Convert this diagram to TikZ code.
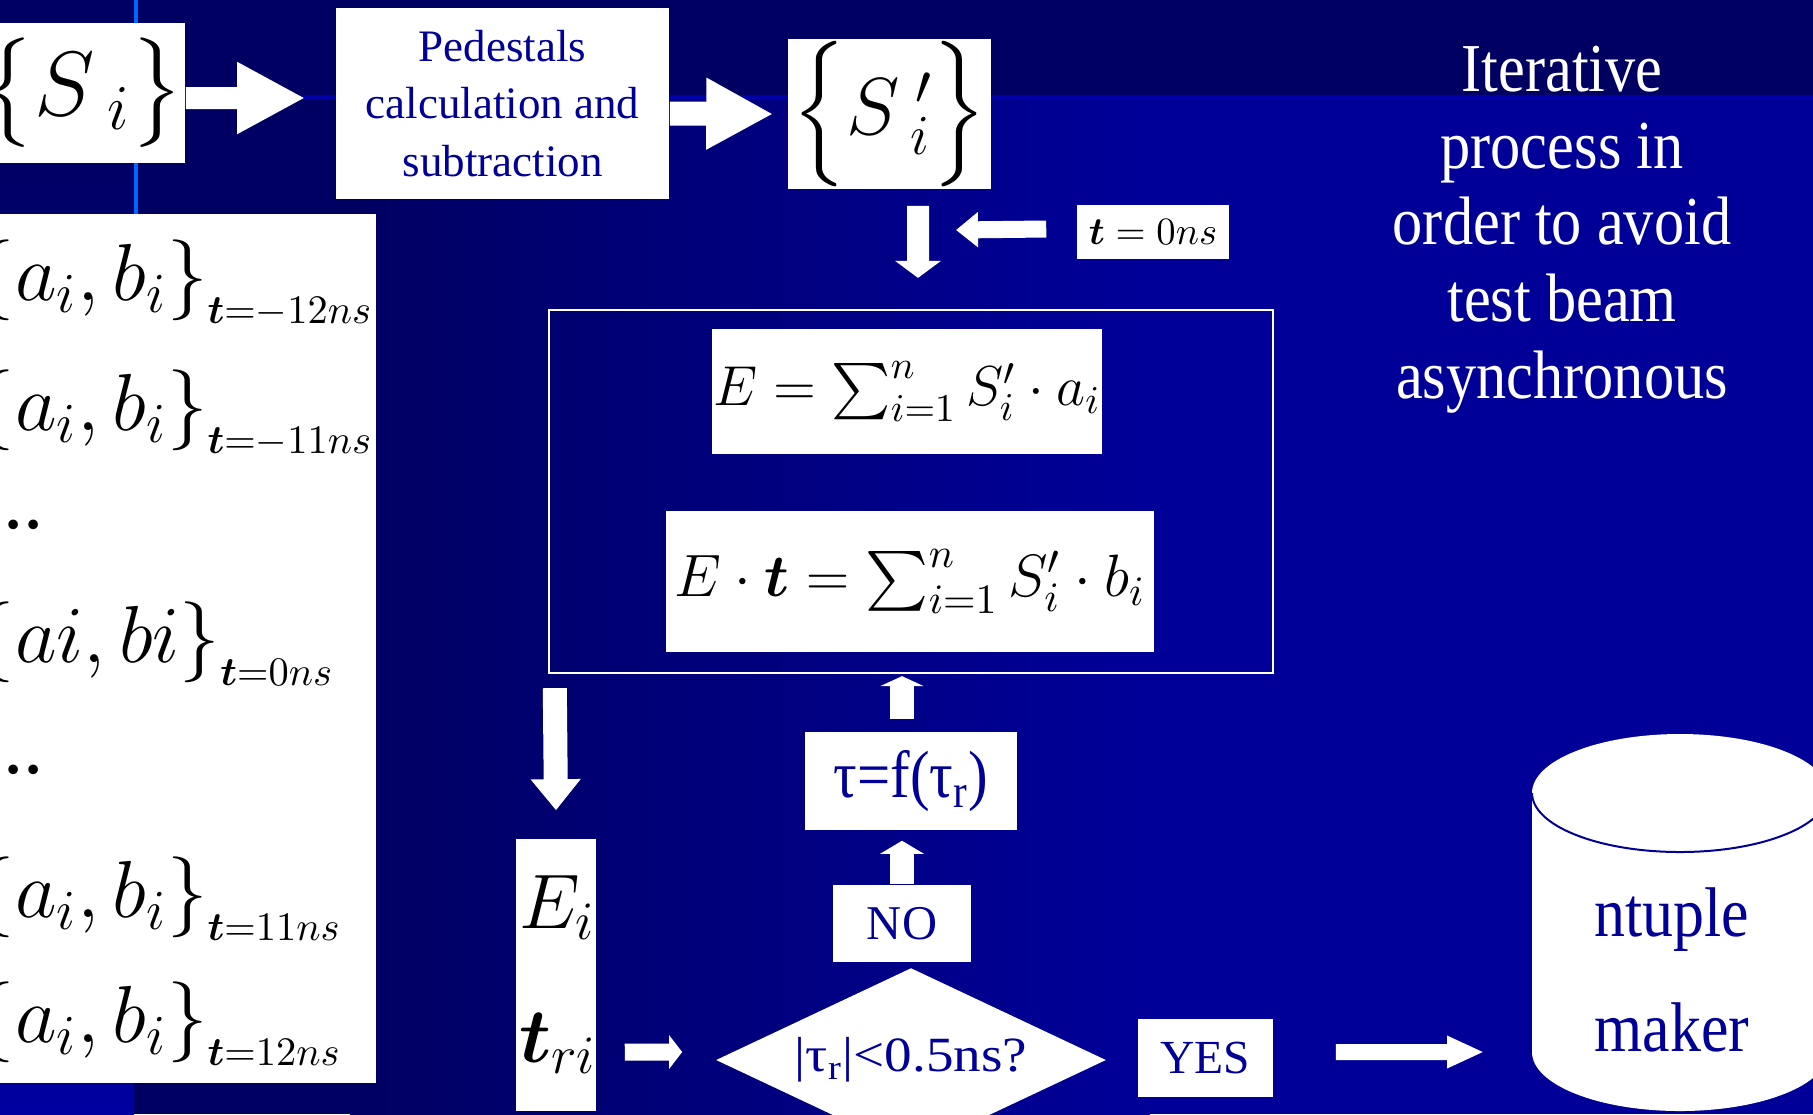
\RequirePackage{fix-cm}
\documentclass[tikz,border=0pt]{standalone}
\usepackage{amsmath,amssymb}
\usepackage{fontspec}
\setmainfont{Liberation Serif}
\newfontfamily\slimserif[FakeStretch=0.88]{Liberation Serif}
\newfontfamily\wideserif[FakeStretch=1.12]{Liberation Serif}
\usetikzlibrary{shapes.geometric, arrows.meta, positioning, calc}
\definecolor{SlideNavy}{HTML}{000062}
\definecolor{SlideBlue}{HTML}{000099}
\definecolor{InkBlue}{HTML}{000099}
\definecolor{EdgeBlue}{HTML}{0066FF}
\definecolor{BandLine}{HTML}{0000AA}
\definecolor{StripBlue}{HTML}{0000A0}

\tikzset{
  wbox/.style={fill=white, inner sep=0pt},
  rowtxt/.style={anchor=base west, inner sep=0pt, font=\fontsize{23}{27}\selectfont},
  fat/.style n args={3}{draw=white, line width=#1, -{Triangle[width=#2, length=#3]}},
}

\begin{document}
\begin{tikzpicture}[x=0.01cm, y=-0.01cm]
                % Background
                \clip (0,0) rectangle (1813,1114);
                \fill[SlideNavy] (0,0) rectangle (1813,1114);
                \shade[left color=SlideNavy, right color=SlideBlue] (350,97) rectangle (1150,1114);
                \fill[SlideBlue] (1150,97) rectangle (1813,1114);
                \shade[top color=SlideNavy, bottom color=StripBlue] (0,97) rectangle (134,1114);
                \fill[BandLine] (0,95) rectangle (1813,99);
                \fill[EdgeBlue] (134,0) rectangle (138,400);

                % Nodes
                \node[wbox, minimum width=2.05cm, minimum height=1.40cm, font=\fontsize{26}{30}\selectfont] (si) at (82.5,93) {\raisebox{0.06cm}{$\left\{\vrule height 21pt depth 9pt width 0pt S_{\;i}\right\}$}};
                \node[wbox, text=InkBlue, align=center, minimum width=3.33cm, minimum height=1.91cm, font=\fontsize{12.8}{16.4}\selectfont] (ped) at (502.5,103.5) {Pedestals\\calculation and\\subtraction};
                \node[wbox, minimum width=2.03cm, minimum height=1.50cm, font=\fontsize{23}{27}\selectfont] (sp) at (889.5,114) {\raisebox{0.06cm}{$\left\{\vrule height 24pt depth 12pt width 0pt S^{\;\prime}_{\;i}\right\}$}};
                \node[wbox, minimum width=1.52cm, minimum height=0.54cm, font=\fontsize{11}{13}\selectfont] (tzero) at (1153,232) {$\boldsymbol{t}=0ns$};

                \node[draw=white, line width=0.02cm, minimum width=7.24cm, minimum height=3.63cm] (frame) at (911,491.5) {};
                \node[wbox, minimum width=3.90cm, minimum height=1.25cm, font=\fontsize{16}{19}\selectfont] (eqa) at (907,391.5) {$E=\sum_{i=1}^{n}S^{\prime}_{i}\cdot a_{i}$};
                \node[wbox, minimum width=4.88cm, minimum height=1.41cm, font=\fontsize{17}{21}\selectfont] (eqb) at (910,581.5) {$E\cdot\boldsymbol{t}=\sum_{i=1}^{n}S^{\prime}_{i}\cdot b_{i}$};

                \node[wbox, minimum width=0.80cm, minimum height=2.72cm] (et) at (556,975) {};
                \node[anchor=base, inner sep=0pt, font=\fontsize{22}{26}\selectfont] (ei) at (557,928) {$E_{i}$};
                \node[anchor=base, inner sep=0pt, font=\fontsize{22}{26}\selectfont] (tri) at (558,1062) {$\boldsymbol{t}_{ri}$};

                \node[wbox, text=InkBlue, minimum width=2.12cm, minimum height=0.98cm, font=\slimserif\fontsize{19}{22}\selectfont] (tau) at (911,781) {τ=f(τ\textsubscript{r})};
                \node[wbox, text=InkBlue, minimum width=1.38cm, minimum height=0.77cm, font=\fontsize{13.8}{16}\selectfont] (no) at (902,923.5) {NO};
                \node[diamond, aspect=2.12, fill=white, inner sep=0pt, text=InkBlue, minimum width=3.90cm, minimum height=1.84cm, font=\wideserif\fontsize{14}{16}\selectfont] (dia) at (911,1060) {\raisebox{0.1cm}{|τ\textsubscript{r}|<0.5ns?}};
                \node[wbox, text=InkBlue, minimum width=1.35cm, minimum height=0.78cm, font=\fontsize{13.5}{16}\selectfont] (yes) at (1205.5,1058) {YES};

                % ntuple maker cylinder
                \fill[white] (1532,793) -- (1532,1052) arc[start angle=180, end angle=0, x radius=148, y radius=59] -- (1828,793) arc[start angle=0, end angle=-180, x radius=148, y radius=59] -- cycle;
                \draw[InkBlue, line width=0.02cm] (1532,793) arc[start angle=180, end angle=0, x radius=148, y radius=59];
                \node[text=InkBlue, align=center, inner sep=0pt, font=\slimserif\fontsize{20}{32.7}\selectfont] (ntuple) at (1672,970) {ntuple\\maker};

                \node[text=white, align=center, inner sep=0pt, font=\slimserif\fontsize{19.5}{21.8}\selectfont] (note) at (1562,229.5) {Iterative\\process in\\order to avoid\\test beam\\asynchronous};

                % Coefficient table
                \node[wbox, anchor=north west, minimum width=3.95cm, minimum height=8.69cm] (coef) at (-20,213) {};
                \foreach \yb/\tv in {300/-12, 430/-11, 917/11, 1042/12}
                    \node[rowtxt] (row\tv) at (-26,\yb) {$\left\{a_{i},b_{i}\right\}_{\scriptscriptstyle\boldsymbol{t}=\tv ns}$};
                \node[rowtxt] (row0) at (-26,662) {$\left\{ai,bi\right\}_{\scriptscriptstyle\boldsymbol{t}=0ns}$};
                \node[rowtxt] (dotsa) at (3,528) {..};
                \node[rowtxt] (dotsb) at (3,773) {..};

                % Paths
                \coordinate (feed) at (956,230);
                \coordinate (dbin) at (1484,1052);
                \draw[fat={0.22cm}{0.67cm}{0.68cm}] ([yshift=-0.05cm]si.east) -- ([xshift=-0.30cm,yshift=0.055cm]ped.west);
                \draw[fat={0.24cm}{0.67cm}{0.67cm}] ([yshift=-0.10cm]ped.east) -- ([xshift=-0.14cm]sp.west);
                \draw[fat={0.22cm}{0.45cm}{0.17cm}] ([xshift=0.285cm,yshift=-0.16cm]sp.south) -- ([xshift=0.07cm,yshift=0.31cm]frame.north);
                \draw[fat={0.17cm}{0.34cm}{0.22cm}] ([xshift=-0.30cm,yshift=0.03cm]tzero.west) -- (feed);
                \draw[fat={0.24cm}{0.48cm}{0.31cm}] ([xshift=0.07cm,yshift=-0.14cm]frame.south west) -- ([yshift=0.28cm]et.north);
                \draw[fat={0.17cm}{0.33cm}{0.13cm}] ([xshift=0.28cm,yshift=-0.77cm]et.east) -- ([xshift=-0.33cm,yshift=0.08cm]dia.west);
                \draw[fat={0.24cm}{0.43cm}{0.13cm}] (no.north) -- ($(no.north |- tau.south)+(0,10)$);
                \draw[fat={0.24cm}{0.43cm}{0.10cm}] ($(no.north |- tau.north)+(0,-12)$) -- ($(no.north |- frame.south)+(0,2)$);
                \draw[fat={0.16cm}{0.30cm}{0.37cm}] ([xshift=0.62cm,yshift=0.06cm]yes.east) -- (dbin);
            \end{tikzpicture}
\end{document}
